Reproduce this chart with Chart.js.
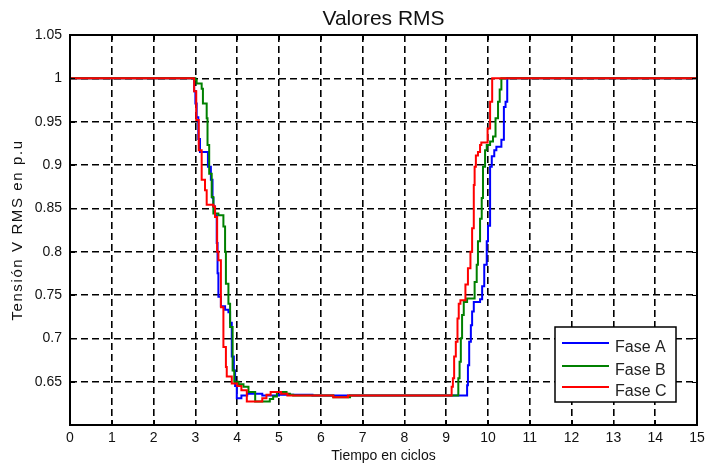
<!DOCTYPE html>
<html>
<head>
<meta charset="utf-8">
<script src="https://cdn.jsdelivr.net/npm/chart.js@4.4.0/dist/chart.umd.min.js"></script>
<style>
html,body{margin:0;padding:0;background:#fff;}
#wrap{width:710px;height:468px;}
</style>
</head>
<body>
<div id="wrap"><canvas id="c" width="710" height="468"></canvas></div>
<script>
// ---- data (time in cycles, RMS voltage in p.u) ----
const seriesNames = ['Fase A', 'Fase B', 'Fase C'];
const seriesColors = ['#0000ff', '#008000', '#ff0000'];

const tA = [0, 2.97, 3.0, 3.03, 3.07, 3.11, 3.30, 3.37, 3.41, 3.43, 3.47, 3.51, 3.53, 3.55, 3.61, 3.71, 3.79, 3.83, 3.87, 3.92, 3.95, 3.99, 4.1, 4.24, 4.6, 5.0, 5.8,
  9.46, 9.5, 9.52, 9.55, 9.59, 9.62, 9.66, 9.81, 9.86, 9.91, 9.97, 10.0, 10.05, 10.09, 10.15, 10.2, 10.32, 10.38, 10.42, 10.46, 15];
const vA = [1, 0.985, 0.971, 0.955, 0.93, 0.915, 0.898, 0.883, 0.862, 0.852, 0.842, 0.81, 0.775, 0.748, 0.737, 0.733, 0.73, 0.718, 0.679, 0.663, 0.645, 0.631, 0.634, 0.636, 0.634, 0.635, 0.634,
  0.634, 0.646, 0.669, 0.696, 0.715, 0.731, 0.742, 0.745, 0.76, 0.785, 0.812, 0.83, 0.898, 0.91, 0.917, 0.921, 0.929, 0.967, 0.973, 1, 1];

const tB = [0, 3.0, 3.03, 3.15, 3.18, 3.27, 3.29, 3.33, 3.39, 3.43, 3.55, 3.67, 3.71, 3.73, 3.79, 3.83, 3.89, 3.93, 4.03, 4.15, 4.27, 4.43, 4.78, 4.86, 4.95, 5.18, 5.26, 5.34, 6.3, 6.7,
  9.27, 9.29, 9.32, 9.35, 9.38, 9.42, 9.5, 9.68, 9.73, 9.76, 9.81, 9.85, 9.88, 9.93, 9.97, 10.05, 10.12, 10.18, 10.24, 10.28, 10.32, 15];
const vB = [1, 0.998, 0.994, 0.988, 0.971, 0.954, 0.923, 0.89, 0.863, 0.844, 0.842, 0.829, 0.80, 0.763, 0.74, 0.713, 0.663, 0.65, 0.647, 0.644, 0.638, 0.627, 0.630, 0.633, 0.638, 0.636, 0.635, 0.634, 0.632, 0.634,
  0.634, 0.654, 0.673, 0.70, 0.727, 0.742, 0.746, 0.765, 0.785, 0.812, 0.838, 0.862, 0.898, 0.917, 0.923, 0.927, 0.933, 0.954, 0.973, 0.987, 1, 1];

const tC = [0, 2.97, 3.02, 3.08, 3.15, 3.23, 3.27, 3.43, 3.47, 3.52, 3.55, 3.61, 3.67, 3.73, 3.75, 3.87, 4.0, 4.1, 4.23, 4.5, 4.6, 4.7, 4.8, 5.05, 5.2, 6.3, 6.65,
  9.13, 9.16, 9.19, 9.23, 9.27, 9.30, 9.34, 9.46, 9.52, 9.58, 9.62, 9.66, 9.68, 9.71, 9.76, 9.81, 9.84, 9.99, 10.05, 10.1, 15];
const vC = [1, 0.985, 0.952, 0.917, 0.883, 0.871, 0.854, 0.852, 0.84, 0.80, 0.79, 0.736, 0.69, 0.667, 0.656, 0.648, 0.645, 0.64, 0.627, 0.627, 0.631, 0.635, 0.638, 0.636, 0.634, 0.632, 0.634,
  0.644, 0.654, 0.679, 0.696, 0.723, 0.74, 0.744, 0.762, 0.781, 0.80, 0.827, 0.877, 0.898, 0.911, 0.915, 0.923, 0.926, 0.942, 0.973, 1, 1];

const xTicks = [0,1,2,3,4,5,6,7,8,9,10,11,12,13,14,15];
const yTicks = [0.6, 0.65, 0.7, 0.75, 0.8, 0.85, 0.9, 0.95, 1, 1.05];
const yTickLabels = ['', '0.65', '0.7', '0.75', '0.8', '0.85', '0.9', '0.95', '1', '1.05'];

const titleText = 'Valores RMS';
const xTitle = 'Tiempo en ciclos';
const yTitle = 'Tensión V RMS en p.u';

// ---- build datasets ----
const zip = (ts, vs) => ts.map((t, i) => ({x: t, y: vs[i]}));
const allT = [tA, tB, tC], allV = [vA, vB, vC];
const datasets = seriesNames.map((name, i) => ({
  label: name,
  data: zip(allT[i], allV[i]),
  borderColor: seriesColors[i],
  borderWidth: 2,
  pointRadius: 0,
  fill: false,
  stepped: true,
  order: 3 - i
}));

const FONT = 'Liberation Sans, Arial, sans-serif';

const decor = {
  id: 'decor',
  afterDraw(chart) {
    const ctx = chart.ctx;
    const a = chart.chartArea;
    const xs = chart.scales.x, ys = chart.scales.y;
    ctx.save();
    // inner ticks
    ctx.strokeStyle = '#000';
    ctx.lineWidth = 1;
    ctx.beginPath();
    xTicks.forEach(v => {
      const px = Math.round(xs.getPixelForValue(v)) + 0.5;
      ctx.moveTo(px, a.bottom); ctx.lineTo(px, a.bottom - 5);
      ctx.moveTo(px, a.top); ctx.lineTo(px, a.top + 5);
    });
    yTicks.forEach(v => {
      const py = Math.round(ys.getPixelForValue(v)) + 0.5;
      ctx.moveTo(a.left, py); ctx.lineTo(a.left + 5, py);
      ctx.moveTo(a.right, py); ctx.lineTo(a.right - 5, py);
    });
    ctx.stroke();
    // box
    ctx.lineWidth = 2;
    ctx.strokeRect(Math.round(a.left), Math.round(a.top), Math.round(a.right - a.left), Math.round(a.bottom - a.top));
    // title
    ctx.fillStyle = '#111';
    ctx.font = '21px ' + FONT;
    ctx.textAlign = 'center';
    ctx.textBaseline = 'middle';
    ctx.fillText(titleText, (a.left + a.right) / 2, 19);
    // y axis title (rotated, slightly spaced like the original)
    ctx.save();
    ctx.translate(18, (a.top + a.bottom) / 2);
    ctx.rotate(-Math.PI / 2);
    ctx.font = '15px ' + FONT;
    try { ctx.letterSpacing = '1.6px'; } catch (e) {}
    ctx.textAlign = 'center';
    ctx.textBaseline = 'middle';
    ctx.fillText(yTitle, 0, 0);
    try { ctx.letterSpacing = '0px'; } catch (e) {}
    ctx.restore();
    // legend
    const lx = 555, ly = 327, lw = 121, lh = 75;
    ctx.fillStyle = '#fff';
    ctx.fillRect(lx, ly, lw, lh);
    ctx.lineWidth = 1.5;
    ctx.strokeStyle = '#000';
    ctx.strokeRect(lx, ly, lw, lh);
    const rows = [343, 366, 387];
    ctx.font = '16px ' + FONT;
    ctx.textAlign = 'left';
    ctx.textBaseline = 'middle';
    seriesNames.forEach((n, i) => {
      ctx.strokeStyle = seriesColors[i];
      ctx.lineWidth = 2;
      ctx.beginPath();
      ctx.moveTo(562, rows[i]); ctx.lineTo(609, rows[i]);
      ctx.stroke();
      ctx.fillStyle = '#222';
      ctx.fillText(n, 615, rows[i] + 5);
    });
    ctx.restore();
  }
};

new Chart(document.getElementById('c'), {
  type: 'line',
  data: { datasets },
  options: {
    responsive: false,
    animation: false,
    events: [],
    layout: { padding: { left: 0, right: 13, top: 35, bottom: 0 } },
    plugins: { legend: { display: false }, title: { display: false }, tooltip: { enabled: false } },
    scales: {
      x: {
        type: 'linear', min: 0, max: 15,
        afterBuildTicks: s => { s.ticks = xTicks.map(v => ({value: v})); },
        afterFit: s => { s.height = 43; },
        ticks: { color: '#111', font: { family: FONT, size: 14 }, padding: 5, maxRotation: 0, autoSkip: false,
                 callback: v => String(v) },
        grid: { color: '#000', lineWidth: 1.6, drawTicks: false },
        border: { display: false, dash: [7, 4] },
        title: { display: true, text: xTitle, color: '#111', font: { family: FONT, size: 14 }, padding: { top: 0, bottom: 3 } }
      },
      y: {
        type: 'linear', min: 0.6, max: 1.05,
        afterBuildTicks: s => { s.ticks = yTicks.map(v => ({value: v})); },
        afterFit: s => { s.width = 70; },
        ticks: { color: '#111', font: { family: FONT, size: 14 }, padding: 8,
                 callback: (v, i) => yTickLabels[i] },
        grid: { color: '#000', lineWidth: 1.6, drawTicks: false },
        border: { display: false, dash: [7, 4] },
        title: { display: false }
      }
    }
  },
  plugins: [decor]
});
</script>
</body>
</html>
